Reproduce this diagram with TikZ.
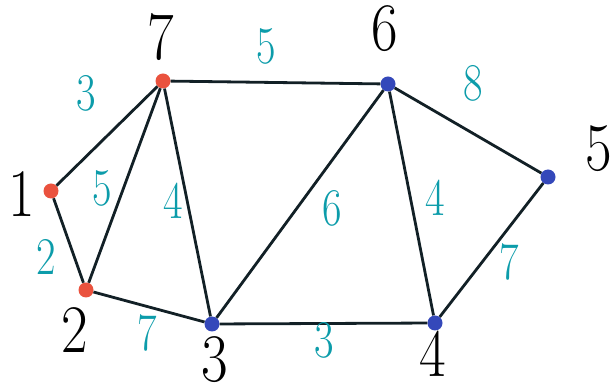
\documentclass[tikz,border=0pt]{standalone}
\usepackage{graphicx}
\definecolor{edgecol}{RGB}{18,32,38}
\definecolor{teal}{RGB}{12,156,170}
\definecolor{reddot}{RGB}{234,82,62}
\definecolor{bluedot}{RGB}{52,72,186}
\newcommand{\biglab}[1]{\scalebox{0.85}[1]{\fontsize{68}{68}\selectfont #1}}
\newcommand{\edlab}[1]{\scalebox{0.8}[1]{\fontsize{53}{53}\selectfont #1}}
\tikzset{
  vdot/.style={circle, inner sep=0pt, minimum size=15pt},
  rdot/.style={vdot, fill=reddot},
  bdot/.style={vdot, fill=bluedot},
  vlab/.style={inner sep=0pt, text=black},
  elab/.style={inner sep=0pt, text=teal},
  edge/.style={draw=edgecol, line width=2.8pt}
}
\begin{document}
\begin{tikzpicture}[x=1pt,y=-1pt]
\useasboundingbox (0,0) rectangle (614,387);
% vertices
\node[rdot] (n7) at (163,81) {};
\node[bdot] (n6) at (388,84) {};
\node[bdot] (n5) at (548,177) {};
\node[rdot] (n1) at (51,191) {};
\node[rdot] (n2) at (86,290) {};
\node[bdot] (n3) at (212,324) {};
\node[bdot] (n4) at (435,323) {};
% edges
\draw[edge] (n7) -- (n6);
\draw[edge] (n6) -- (n5);
\draw[edge] (n7) -- (n1);
\draw[edge] (n7) -- (n2);
\draw[edge] (n7) -- (n3);
\draw[edge] (n1) -- (n2);
\draw[edge] (n2) -- (n3);
\draw[edge] (n3) -- (n4);
\draw[edge] (n3) -- (n6);
\draw[edge] (n6) -- (n4);
\draw[edge] (n4) -- (n5);
% vertex labels
\node[vlab] (l7) at (161,37) {\biglab{7}};
\node[vlab] (l6) at (385,29) {\biglab{6}};
\node[vlab] (l5) at (599,149) {\biglab{5}};
\node[vlab] (l1) at (22,194) {\biglab{1}};
\node[vlab] (l2) at (75,330) {\biglab{2}};
\node[vlab] (l3) at (215,360) {\biglab{3}};
\node[vlab] (l4) at (433,354) {\biglab{4}};
% edge labels
\node[elab] (e71) at (86,93) {\edlab{3}};
\node[elab] (e72) at (102,188) {\edlab{5}};
\node[elab] (e73) at (173,201) {\edlab{4}};
\node[elab] (e76) at (266,46) {\edlab{5}};
\node[elab] (e65) at (473,83) {\edlab{8}};
\node[elab] (e63) at (332,208) {\edlab{6}};
\node[elab] (e64) at (435,198) {\edlab{4}};
\node[elab] (e45) at (509,262) {\edlab{7}};
\node[elab] (e12) at (46,257) {\edlab{2}};
\node[elab] (e23) at (147,333) {\edlab{7}};
\node[elab] (e34) at (324,340) {\edlab{3}};
\end{tikzpicture}
\end{document}
